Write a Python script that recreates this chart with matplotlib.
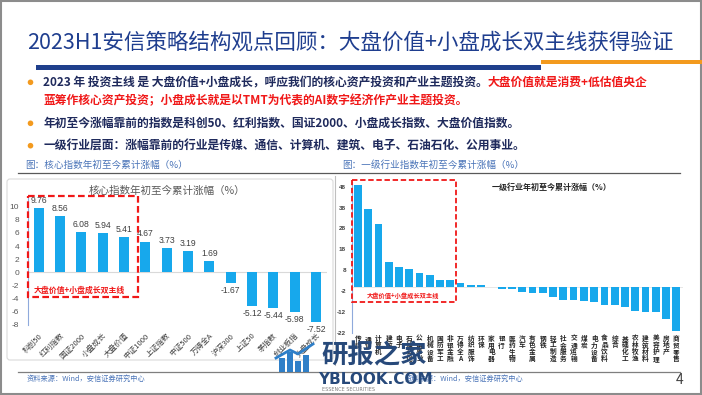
import matplotlib
matplotlib.use("Agg")
import matplotlib.pyplot as plt
from matplotlib.patches import Rectangle, FancyBboxPatch, Circle
from matplotlib.lines import Line2D

plt.rcParams['font.family'] = ['Noto Sans CJK SC', 'DejaVu Sans']
plt.rcParams['axes.unicode_minus'] = False

# ---------------- data ----------------
title = "2023H1安信策略结构观点回顾：大盘价值+小盘成长双主线获得验证"
bullet1_a = "2023 年 投资主线 是 大盘价值+小盘成长，呼应我们的核心资产投资和产业主题投资。"
bullet1_b = "大盘价值就是消费+低估值央企"
bullet1_c = "蓝筹作核心资产投资；小盘成长就是以TMT为代表的AI数字经济作产业主题投资。"
bullet2 = "年初至今涨幅靠前的指数是科创50、红利指数、国证2000、小盘成长指数、大盘价值指数。"
bullet3 = "一级行业层面：涨幅靠前的行业是传媒、通信、计算机、建筑、电子、石油石化、公用事业。"
caption_left = "图：核心指数年初至今累计涨幅（%）"
caption_right = "图：一级行业指数年初至今累计涨幅（%）"
chart_title_left = "核心指数年初至今累计涨幅（%）"
chart_title_right = "一级行业年初至今累计涨幅（%）"
box_note = "大盘价值+小盘成长双主线"
source = "资料来源：Wind，安信证券研究中心"

idx_names = ["科创50", "红利指数", "国证2000", "小盘成长", "大盘价值", "中证1000", "上证指数",
             "中证500", "万得全A", "沪深300", "上证50", "茅指数", "创业板指", "大盘成长"]
idx_values = [9.76, 8.56, 6.08, 5.94, 5.41, 4.67, 3.73, 3.19, 1.69, -1.67, -5.12, -5.44, -5.98, -7.52]
left_yticks = [-8, -6, -4, -2, 0, 2, 4, 6, 8, 10]

ind_names = ["传媒", "通信", "计算机", "建筑", "电子", "石油石化", "公用事业", "机械设备", "国防军工",
             "非银金融", "万得全A", "纺织服饰", "环保", "家用电器", "银行", "医药生物", "汽车", "有色金属",
             "钢铁", "轻工制造", "社会服务", "交通运输", "煤炭", "电力设备", "食品饮料", "综合", "基础化工",
             "农林牧渔", "建筑材料", "美容护理", "房地产", "商贸零售"]
ind_values = [48.8, 37.3, 29.9, 12.0, 9.6, 8.5, 6.8, 5.8, 3.2, 3.1, 1.6, 0.9, 0.8, 0.1, -1.0, -1.1,
              -2.6, -3.2, -3.2, -4.8, -6.1, -6.1, -6.9, -7.3, -8.8, -8.9, -9.7, -11.7, -12.1, -12.1,
              -15.2, -21.1]
right_yticks = [-22, -12, -2, 8, 18, 28, 38, 48]

# ---------------- style ----------------
W, H = 702, 395
BAR = "#17A8EC"
NAVY = "#1F2A5C"
TITLE_BLUE = "#1F3E8F"
RED = "#F01818"
ORANGE = "#F39A1E"
CAP_BLUE = "#4A74B8"
SPINE = "#8FAADC"

fig = plt.figure(figsize=(W / 100, H / 100), dpi=100)


def px_axes(x0, y0, x1, y1, z):
    return fig.add_axes([x0 / W, 1 - y1 / H, (x1 - x0) / W, (y1 - y0) / H], zorder=z)


bg = px_axes(0, 0, W, H, 0)
bg.set_xlim(0, W); bg.set_ylim(H, 0); bg.axis('off')
fg = px_axes(0, 0, W, H, 5)
fg.set_xlim(0, W); fg.set_ylim(H, 0); fg.axis('off'); fg.patch.set_visible(False)

# frame
bg.add_patch(Rectangle((0.8, 0.8), W - 1.6, H - 1.6, fill=False, ec="#8C8C8C", lw=1.5))

# title
bg.text(26.7, 42.3, title, fontsize=15.5, color=TITLE_BLUE, va='center', ha='left')
bg.add_patch(Rectangle((35.7, 65), 505, 4.6, color="#1F3F8C", lw=0))
bg.add_patch(Rectangle((541, 59.5), 161, 4.0, color=ORANGE, lw=0))

# bullets
for yy in [82.3, 123.3, 145.7]:
    bg.add_patch(Circle((30.5, yy), 2.8, color=ORANGE, lw=0))
t1 = bg.text(43.3, 82.3, bullet1_a, fontsize=8.5, weight='bold', color=NAVY, va='center', ha='left')
bg.annotate(bullet1_b, xy=(1, 0.5), xycoords=t1, fontsize=8.5, weight='bold', color=RED,
            va='center', ha='left')
bg.text(43.3, 101, bullet1_c, fontsize=8.5, weight='bold', color=RED, va='center', ha='left')
bg.text(43.3, 123.3, bullet2, fontsize=8.5, weight='bold', color=NAVY, va='center', ha='left')
bg.text(43.3, 145.7, bullet3, fontsize=8.5, weight='bold', color=NAVY, va='center', ha='left')

# captions
bg.text(25, 165, caption_left, fontsize=6.9, color=CAP_BLUE, va='center', ha='left')
bg.text(341.7, 165, caption_right, fontsize=6.9, color=CAP_BLUE, va='center', ha='left')
bg.add_line(Line2D([18.3, 680], [173.3, 173.3], color="#595959", lw=0.9))

# left panel box & separator
bg.add_patch(FancyBboxPatch((7, 179), 326, 181, boxstyle="round,pad=0,rounding_size=3",
                            fc="white", ec="#DADADA", lw=0.8))
bg.add_line(Line2D([334.5, 334.5], [176, 365], color="#BFBFBF", lw=0.8))

# footer
bg.add_line(Line2D([18, 680], [371.5, 371.5], color="#7F7F7F", lw=0.9))
bg.text(27, 378.5, source, fontsize=5.2, color=CAP_BLUE, va='center', ha='left')
bg.text(405, 378.5, source, fontsize=5.2, color=CAP_BLUE, va='center', ha='left')
bg.text(680, 380, "4", fontsize=10, color="#404040", va='center', ha='center')

# chart titles
bg.text(167, 190.7, chart_title_left, fontsize=7.6, color="#595959", va='center', ha='center')
bg.text(552, 187.7, chart_title_right, fontsize=5.8, weight='bold', color="#262626",
        va='center', ha='center')

# ---------------- left chart ----------------
ax1 = px_axes(28, 196.7, 326.6, 324.9, 2)
ax1.patch.set_visible(False)
x1 = list(range(len(idx_values)))
ax1.bar(x1, idx_values, width=0.47, color=BAR, zorder=3)
ax1.axhline(0, color="#D9D9D9", lw=0.8, zorder=1)
ax1.set_xlim(-0.5, len(idx_values) - 0.5)
ax1.set_ylim(-8, 11.5)
ax1.set_yticks(left_yticks)
ax1.set_yticklabels([str(v) for v in left_yticks], family='Liberation Sans')
ax1.tick_params(axis='y', length=0, labelsize=6, labelcolor="#595959", pad=6.5)
ax1.set_xticks(x1)
ax1.set_xticklabels(idx_names, rotation=45, ha='right', rotation_mode='anchor', fontsize=5.5,
                    color="#404040")
ax1.tick_params(axis='x', length=0, pad=5)
for s in ['top', 'right', 'bottom']:
    ax1.spines[s].set_visible(False)
ax1.spines['left'].set_color(SPINE)
ax1.spines['left'].set_linewidth(0.8)
for xi, v in zip(x1, idx_values):
    ax1.annotate(f"{v:.2f}", (xi, v), xytext=(0, 5.5 if v > 0 else -5.5), textcoords='offset points',
                 ha='center', va='center', fontsize=6.2, family='Liberation Sans', color="#404040")

# ---------------- right chart ----------------
ax2 = px_axes(351.7, 181.5, 682.5, 332.7, 2)
ax2.patch.set_visible(False)
x2 = list(range(len(ind_values)))
ax2.bar(x2, ind_values, width=0.75, color=BAR, zorder=3)
ax2.axhline(0, color="#E3E3E3", lw=0.6, zorder=1)
ax2.set_xlim(-0.6, len(ind_values) - 0.4)
ax2.set_ylim(-22, 50.5)
ax2.set_yticks(right_yticks)
ax2.set_yticklabels([str(v) for v in right_yticks], family='Liberation Sans', weight='bold')
ax2.tick_params(axis='y', length=0, labelsize=4.5, labelcolor="#404040", pad=4)
ax2.set_xticks(x2)
ax2.set_xticklabels(["\n".join(n) for n in ind_names], fontsize=4.8, weight='bold',
                    color="#262626", linespacing=0.95, va='top')
ax2.tick_params(axis='x', length=0, pad=1.5)
for s in ['top', 'right', 'bottom']:
    ax2.spines[s].set_visible(False)
ax2.spines['left'].set_color(SPINE)
ax2.spines['left'].set_linewidth(0.8)

# ---------------- foreground annotations ----------------
fg.add_patch(Rectangle((28.3, 196), 110, 101, fill=False, ec=RED, lw=1.6, ls=(0, (3, 1.5))))
fg.text(79, 290.7, box_note, fontsize=5.7, weight='bold', color=RED, va='center', ha='center')
fg.add_patch(Rectangle((352.3, 180), 103.7, 121.7, fill=False, ec=RED, lw=1.3, ls=(0, (3, 1.5))))
fg.text(403, 295.7, box_note, fontsize=4.5, weight='bold', color=RED, va='center', ha='center')

# watermark
WM = "#27497A"
for bx, bh in zip([279, 287, 295, 303], [14, 20, 11, 17]):
    fg.add_patch(Rectangle((bx, 372 - bh), 6, bh, color="#2F7FC8", lw=0))
fg.add_line(Line2D([276, 290, 298, 313], [358, 350, 354, 344], color="#2F7FC8", lw=2))
fg.text(321, 356, "研报之家", fontsize=19, weight='bold', color=WM, va='center', ha='left')
fg.text(318, 380, "YBLOOK.COM", fontsize=11, weight='bold', color=WM, va='center', ha='left',
        family='DejaVu Sans')
fg.text(322, 389.5, "ESSENCE SECURITIES", fontsize=3.5, color="#7F7F7F", va='center', ha='left',
        family='DejaVu Sans')

fig.savefig("out.png", dpi=100)
